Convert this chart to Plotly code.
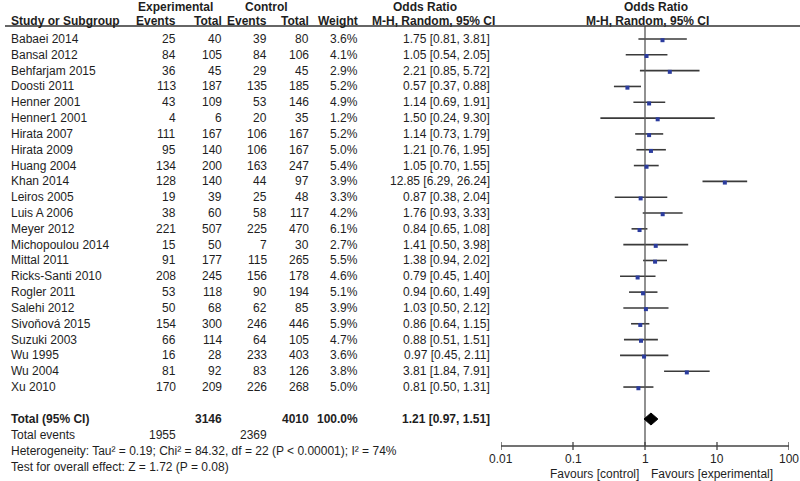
import plotly.graph_objects as go
import math

studies = ["Babaei 2014", "Bansal 2012", "Behfarjam 2015", "Doosti 2011", "Henner 2001",
           "Henner1 2001", "Hirata 2007", "Hirata 2009", "Huang 2004", "Khan 2014",
           "Leiros 2005", "Luis A 2006", "Meyer 2012", "Michopoulou 2014", "Mittal 2011",
           "Ricks-Santi 2010", "Rogler 2011", "Salehi 2012", "Sivoňová 2015", "Suzuki 2003",
           "Wu 1995", "Wu 2004", "Xu 2010"]
exp_events = [25, 84, 36, 113, 43, 4, 111, 95, 134, 128, 19, 38, 221, 15, 91, 208, 53, 50, 154, 66, 16, 81, 170]
exp_total = [40, 105, 45, 187, 109, 6, 167, 140, 200, 140, 39, 60, 507, 50, 177, 245, 118, 68, 300, 114, 28, 92, 209]
ctl_events = [39, 84, 29, 135, 53, 20, 106, 106, 163, 44, 25, 58, 225, 7, 115, 156, 90, 62, 246, 64, 233, 83, 226]
ctl_total = [80, 106, 45, 185, 146, 35, 167, 167, 247, 97, 48, 117, 470, 30, 265, 178, 194, 85, 446, 105, 403, 126, 268]
weights = ["3.6%", "4.1%", "2.9%", "5.2%", "4.9%", "1.2%", "5.2%", "5.0%", "5.4%", "3.9%", "3.3%", "4.2%",
           "6.1%", "2.7%", "5.5%", "4.6%", "5.1%", "3.9%", "5.9%", "4.7%", "3.6%", "3.8%", "5.0%"]
odds = [1.75, 1.05, 2.21, 0.57, 1.14, 1.50, 1.14, 1.21, 1.05, 12.85, 0.87, 1.76, 0.84, 1.41, 1.38,
        0.79, 0.94, 1.03, 0.86, 0.88, 0.97, 3.81, 0.81]
ci_low = [0.81, 0.54, 0.85, 0.37, 0.69, 0.24, 0.73, 0.76, 0.70, 6.29, 0.38, 0.93, 0.65, 0.50, 0.94,
          0.45, 0.60, 0.50, 0.64, 0.51, 0.45, 1.84, 0.50]
ci_high = [3.81, 2.05, 5.72, 0.88, 1.91, 9.30, 1.79, 1.95, 1.55, 26.24, 2.04, 3.33, 1.08, 3.98, 2.02,
           1.40, 1.49, 2.12, 1.15, 1.51, 2.11, 7.91, 1.31]

total_exp = 3146
total_ctl = 4010
total_events_exp = 1955
total_events_ctl = 2369
total_or = 1.21
total_low = 0.97
total_high = 1.51
heterogeneity = "Heterogeneity: Tau² = 0.19; Chi² = 84.32, df = 22 (P < 0.00001); I² = 74%"
overall = "Test for overall effect: Z = 1.72 (P = 0.08)"
axis_ticks = [0.01, 0.1, 1, 10, 100]
axis_tick_labels = ["0.01", "0.1", "1", "10", "100"]

W, H = 800, 481
ROW0, ROWSTEP = 39, 15.82
TOTAL_Y = 419
AXIS_Y = 446
FONT = "Arial, Liberation Sans, sans-serif"
FS = 12
TXT = "#1e1e1e"

fig = go.Figure()

# invisible anchor trace for the pixel-coordinate text axis (x)
fig.add_trace(go.Scatter(x=[0, W], y=[0, H], xaxis="x", yaxis="y", mode="markers",
                         marker=dict(opacity=0), showlegend=False, hoverinfo="skip"))

ys = [ROW0 + i * ROWSTEP for i in range(len(studies))]

def fline(xs, yv, color, width):
    fig.add_trace(go.Scatter(x=xs, y=yv, xaxis="x2", yaxis="y", mode="lines",
                             line=dict(color=color, width=width), showlegend=False, hoverinfo="skip"))

# CI lines
for lo, hi, y in zip(ci_low, ci_high, ys):
    fline([lo, hi], [y, y], "#3a3a3a", 1.6)
# vertical line at 1
fline([1, 1], [26, AXIS_Y], "#555555", 1.3)
# point estimates
fig.add_trace(go.Scatter(x=odds, y=[y + 1.2 for y in ys], xaxis="x2", yaxis="y", mode="markers",
                         marker=dict(symbol="square", size=4, color="#2b3c9e", line=dict(width=0)),
                         showlegend=False, hoverinfo="skip"))
# diamond
fig.add_trace(go.Scatter(x=[total_low, total_or, total_high, total_or, total_low],
                         y=[TOTAL_Y, TOTAL_Y - 6, TOTAL_Y, TOTAL_Y + 6, TOTAL_Y],
                         xaxis="x2", yaxis="y",
                         mode="lines", fill="toself", fillcolor="black", line=dict(color="black", width=1),
                         showlegend=False, hoverinfo="skip"))
# bottom axis
fline([axis_ticks[0], axis_ticks[-1]], [AXIS_Y, AXIS_Y], "#444444", 1.3)
for t in axis_ticks:
    fline([t, t], [AXIS_Y - 4, AXIS_Y + 4], "#444444", 1.3)

ann = []
def txt(x, y, s, anchor="left", bold=False, xref="x", size=FS):
    ann.append(dict(x=x, y=y, xref=xref, yref="y", text=f"<b>{s}</b>" if bold else s,
                    showarrow=False, xanchor=anchor, yanchor="middle",
                    font=dict(family=FONT, size=size, color=TXT), borderpad=0))

# headers
txt(175, 7, "Experimental", "center", True)
txt(266, 7, "Control", "center", True)
txt(425, 7, "Odds Ratio", "center", True)
txt(656, 7, "Odds Ratio", "center", True)
txt(10, 21, "Study or Subgroup", "left", True)
txt(177, 21, "Events", "right", True)
txt(223, 21, "Total", "right", True)
txt(268, 21, "Events", "right", True)
txt(310, 21, "Total", "right", True)
txt(359, 21, "Weight", "right", True)
txt(496, 21, "M-H, Random, 95% CI", "right", True)
txt(647, 21, "M-H, Random, 95% CI", "center", True)

for i, y in enumerate(ys):
    txt(10, y, studies[i])
    txt(177, y, str(exp_events[i]), "right")
    txt(223, y, str(exp_total[i]), "right")
    txt(268, y, str(ctl_events[i]), "right")
    txt(310, y, str(ctl_total[i]), "right")
    txt(359, y, weights[i], "right")
    txt(491, y, f"{odds[i]:.2f} [{ci_low[i]:.2f}, {ci_high[i]:.2f}]", "right")

txt(10, TOTAL_Y, "Total (95% CI)", "left", True)
txt(223, TOTAL_Y, str(total_exp), "right", True)
txt(310, TOTAL_Y, str(total_ctl), "right", True)
txt(359, TOTAL_Y, "100.0%", "right", True)
txt(491, TOTAL_Y, f"{total_or:.2f} [{total_low:.2f}, {total_high:.2f}]", "right", True)
txt(10, 435, "Total events")
txt(177, 435, str(total_events_exp), "right")
txt(268, 435, str(total_events_ctl), "right")
txt(10, 451, heterogeneity)
txt(10, 467, overall)

for t, lab in zip(axis_ticks, axis_tick_labels):
    txt(math.log10(t), 459, lab, "center", xref="x2")
txt(640, 474, "Favours [control]", "right")
txt(650, 474, "Favours [experimental]", "left")

fig.update_layout(
    width=W, height=H, margin=dict(l=0, r=0, t=0, b=0),
    paper_bgcolor="white", plot_bgcolor="white", showlegend=False,
    annotations=ann,
    xaxis=dict(range=[0, W], domain=[0, 1], visible=False, fixedrange=True),
    xaxis2=dict(type="log", range=[-2, 2], domain=[501 / W, 789 / W], visible=False, anchor="y"),
    yaxis=dict(range=[H, 0], domain=[0, 1], visible=False),
    shapes=[dict(type="line", xref="x", yref="y", x0=5, x1=W, y0=26, y1=26,
                 line=dict(color="#333333", width=1.3))],
)

fig.write_html("out.html", config={"displayModeBar": False},
               post_script="document.body.style.margin='0';document.body.style.overflow='hidden';")
